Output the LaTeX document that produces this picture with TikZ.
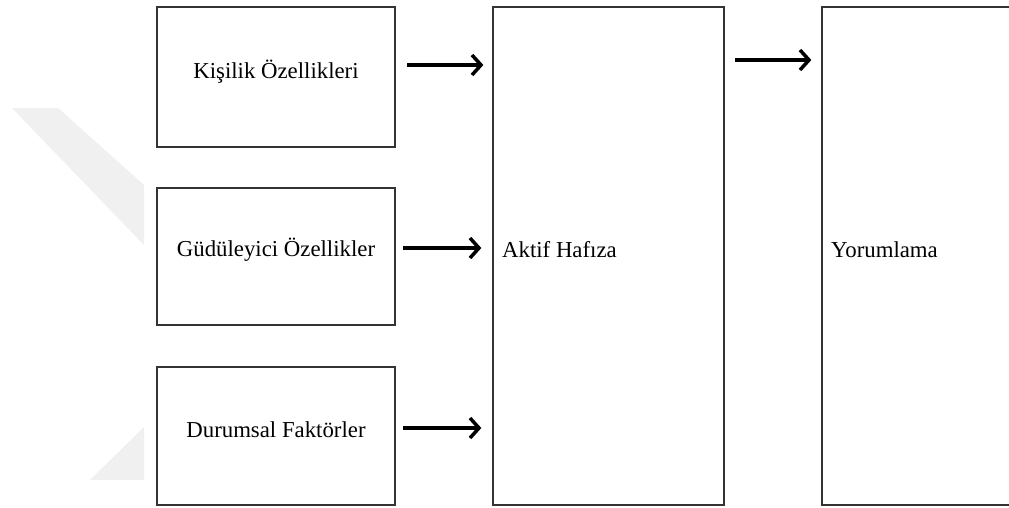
\documentclass[tikz,border=0pt]{standalone}
\usepackage{fontspec}
\setmainfont{Liberation Serif}
\usetikzlibrary{arrows.meta}
\begin{document}
\begin{tikzpicture}[x=1pt,y=-1pt,
  box/.style={draw=black!80,line width=1.3pt,fill=white,inner sep=0pt},
  lbl/.style={font=\fontsize{22.8}{26}\selectfont,inner sep=0pt},
  thickarr/.style={line width=4.5pt,-{Straight Barb[length=9pt,width=20pt,line width=3.5pt]}},
  thinarr/.style={line width=3.5pt,-{Straight Barb[length=9pt,width=20pt,line width=3.5pt]}}]
\useasboundingbox (0,0) rectangle (1009,507);
\fill[white] (0,0) rectangle (1009,507);
% faint watermark
\fill[black!6] (12,108) -- (58,108) -- (144,185) -- (144,245) -- cycle;
\fill[black!6] (90,480) -- (144,480) -- (144,427) -- cycle;
% boxes
\node[box,minimum width=238pt,minimum height=140pt] (k) at (276,77) {};
\node[box,minimum width=238pt,minimum height=137pt] (g) at (276,256.5) {};
\node[box,minimum width=238pt,minimum height=138pt] (d) at (276,436) {};
\node[box,minimum width=231pt,minimum height=498pt] (ah) at (608.5,256) {};
\node[box,minimum width=200pt,minimum height=498pt] (yo) at (922,256) {};
% labels
\node[lbl] (kt) at (276,72) {Kişilik Özellikleri};
\node[lbl] (gt) at (276,250) {Güdüleyici Özellikler};
\node[lbl] (dt) at (276,430) {Durumsal Faktörler};
\node[lbl,anchor=west] (aht) at (502,250) {Aktif Hafıza};
\node[lbl,anchor=west] (yot) at (831,250) {Yorumlama};
% arrows
\coordinate (s1) at (407,65);
\coordinate (s2) at (403,248);
\coordinate (s3) at (403,428);
\coordinate (s4) at (735,60);
\draw[thickarr,shorten >=9pt] (s1) -- (s1 -| ah.west);
\draw[thickarr,shorten >=11pt] (s2) -- (s2 -| ah.west);
\draw[thinarr,shorten >=11pt] (s3) -- (s3 -| ah.west);
\draw[thinarr,shorten >=10pt] (s4) -- (s4 -| yo.west);
\end{tikzpicture}
\end{document}
